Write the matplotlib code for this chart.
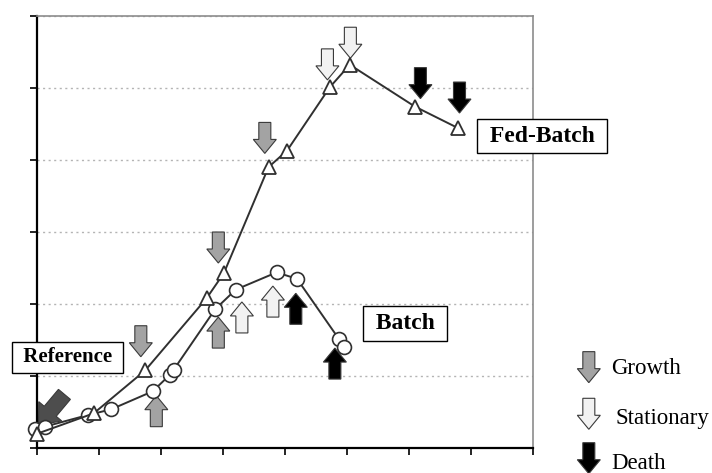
import numpy as np
import matplotlib
matplotlib.use("Agg")
import matplotlib.pyplot as plt
from matplotlib.patches import Polygon
from matplotlib.transforms import Affine2D, ScaledTranslation

plt.rcParams['font.family'] = ['Liberation Serif', 'DejaVu Serif']

# Fed-Batch culture (triangles)
fed_x = [0.0, 0.92, 1.75, 2.74, 3.02, 3.74, 4.04, 4.73, 5.05, 6.10, 6.80]
fed_y = [0.20, 0.485, 1.08, 2.08, 2.43, 3.90, 4.13, 5.01, 5.32, 4.74, 4.44]

# Batch culture (circles)
batch_x = [-0.02, 0.13, 0.82, 1.20, 1.87, 2.15, 2.21, 2.88, 3.21, 3.87, 4.20, 4.88, 4.95]
batch_y = [0.27, 0.30, 0.46, 0.54, 0.79, 1.02, 1.09, 1.93, 2.20, 2.44, 2.35, 1.51, 1.41]

# phase arrows (tip position, phase, pointing direction)
arrow_x = [1.68, 2.93, 3.68, 4.69, 5.06, 6.19, 6.82,
           1.93, 2.93, 3.31, 3.81, 4.18, 4.81]
arrow_y = [1.27, 2.57, 4.09, 5.11, 5.41, 4.85, 4.65,
           0.73, 1.82, 2.03, 2.25, 2.15, 1.39]
arrow_phase = ["Growth", "Growth", "Growth", "Stationary", "Stationary", "Death", "Death",
               "Growth", "Growth", "Stationary", "Stationary", "Death", "Death"]
arrow_dir = ["down"] * 7 + ["up"] * 6

phases = ["Growth", "Stationary", "Death"]
phase_colors = {"Growth": "#a3a3a3", "Stationary": "#f2f2f2", "Death": "#000000"}

# labels
label_text = ["Reference", "Batch", "Fed-Batch"]
label_x = [0.50, 5.94, 8.15]
label_y = [1.26, 1.73, 4.33]
label_size = [15, 17, 17]

ref_tip = (0.03, 0.32)

fig = plt.figure(figsize=(7.12, 4.73), dpi=100)
ax = fig.add_axes([0.0515, 0.0522, 0.6966, 0.9146])
ax.set_xlim(0, 8)
ax.set_ylim(0, 6)

# block arrow drawn in pixel units, tip at (x, y) of the given transform
ARROW = np.array([[0, 0], [-11.5, 14], [-6, 14], [-6, 31], [6, 31], [6, 14], [11.5, 14]], dtype=float)

def block_arrow(x, y, base, color, up=False, scale=1.0, angle=0.0, z=2):
    shape = ARROW.copy()
    if up:
        shape[:, 1] *= -1
    t = (Affine2D().scale(scale).rotate_deg(angle).scale(1 / 100.0)
         + fig.dpi_scale_trans + ScaledTranslation(x, y, base))
    p = Polygon(shape, closed=True, transform=t, facecolor=color,
                edgecolor="#3a3a3a", linewidth=0.8, zorder=z, clip_on=False)
    fig.add_artist(p) if base is fig.transFigure else ax.add_patch(p)

for x, y, ph, d in zip(arrow_x, arrow_y, arrow_phase, arrow_dir):
    block_arrow(x, y, ax.transData, phase_colors[ph], up=(d == "up"))

# reference arrow (diagonal)
block_arrow(ref_tip[0], ref_tip[1], ax.transData, "#4d4d4d",
            scale=1.3, angle=-40)

ax.plot(batch_x, batch_y, color="#303030", lw=1.4, marker="o", ms=10,
        mfc="white", mec="#303030", mew=1.2, zorder=4, clip_on=False)
ax.plot(fed_x, fed_y, color="#303030", lw=1.4, marker="^", ms=10,
        mfc="white", mec="#303030", mew=1.3, zorder=5, clip_on=False)

for txt, x, y, fs in zip(label_text, label_x, label_y, label_size):
    ax.text(x, y, " " + txt + " ", fontsize=fs, fontweight="bold",
            ha="center", va="center", zorder=6, clip_on=False,
            bbox=dict(boxstyle="square,pad=0.28", fc="white", ec="black", lw=1))

# axes styling
ax.set_xticks(range(9))
ax.set_yticks(range(7))
ax.set_xticklabels([])
ax.set_yticklabels([])
ax.tick_params(direction="out", length=5, width=1.2, color="black")
ax.grid(axis="y", linestyle=(0, (1.5, 2.5)), color="#b4b4b4", lw=1)
ax.set_axisbelow(True)
for s in ["left", "bottom"]:
    ax.spines[s].set_color("black")
    ax.spines[s].set_linewidth(1.6)
for s in ["top", "right"]:
    ax.spines[s].set_color("#8c8c8c")
    ax.spines[s].set_linewidth(1.2)

# legend
leg_tip_y = [0.191, 0.0924, -0.0015]
leg_text_y = [0.221, 0.1156, 0.0205]
leg_text_x = [0.858, 0.864, 0.858]
for ph, ty, lx, ly in zip(phases, leg_tip_y, leg_text_x, leg_text_y):
    block_arrow(0.827, ty, fig.transFigure, phase_colors[ph])
    fig.text(lx, ly, ph, fontsize=16.5, ha="left", va="center")

fig.savefig("out.png", dpi=100)
